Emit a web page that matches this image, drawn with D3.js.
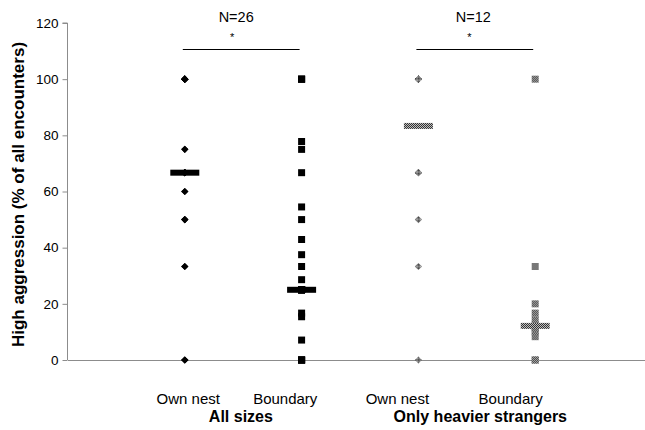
<!DOCTYPE html>
<html>
<head>
<meta charset="utf-8">
<script src="https://cdn.jsdelivr.net/npm/d3@7"></script>
<style>
  body { margin: 0; background: #fff; }
  text { font-family: Arial, "Liberation Sans", sans-serif; }
</style>
</head>
<body>
<script>
(function() {

// values (many points overlap)
var ownAll = [0, 0, 0, 33.3, 33.3, 50, 50, 50, 60, 60,
              66.7, 66.7, 66.7, 66.7, 66.7, 66.7, 75, 75,
              100, 100, 100, 100, 100, 100, 100, 100];
var boundAll = [0, 0, 0, 0, 7.1, 15.4, 16.7, 25, 25, 25, 25, 25, 25, 25,
                28.6, 33.3, 37.5, 42.9, 50, 54.5, 66.7, 75, 77.8,
                100, 100, 100];
var ownHeavy = [0, 33.3, 50, 66.7, 66.7, 66.7, 100, 100, 100, 100, 100, 100];
var boundHeavy = [0, 0, 8.3, 10, 11.1, 11.8, 12.5, 14.3, 16.7, 20, 33.3, 100];

var series = [
  {name: "Own nest",  x: 1, values: ownAll,     shape: "diamond", heavy: false},
  {name: "Boundary",  x: 2, values: boundAll,   shape: "square",  heavy: false},
  {name: "Own nest",  x: 3, values: ownHeavy,   shape: "diamond", heavy: true},
  {name: "Boundary",  x: 4, values: boundHeavy, shape: "square",  heavy: true}
];

var labelX   = [1.03, 1.86, 2.82, 3.79];
var groups   = ["All sizes", "Only heavier strangers"];
var groupX   = [1.48, 3.53];
var nLabels  = ["N=26", "N=12"];
var nX       = [1.44, 3.47];
var sigPairs = [[1, 2], [3, 4]];
var yTicks   = [0, 20, 40, 60, 80, 100, 120];

var width = 645, height = 430,
    svg, x, y;

svg = d3.select("body").append("svg")
  .attr("width", width)
  .attr("height", height);

var defs = svg.append("defs");
var pat = defs.append("pattern")
  .attr("id", "dither")
  .attr("width", 2).attr("height", 2)
  .attr("patternUnits", "userSpaceOnUse");
pat.append("rect").attr("width", 2).attr("height", 2).attr("fill", "#bdbdbd");
pat.append("rect").attr("width", 1).attr("height", 1).attr("fill", "#333");
pat.append("rect").attr("x", 1).attr("y", 1).attr("width", 1).attr("height", 1).attr("fill", "#333");

x = d3.scaleLinear().domain([0, 4.94]).range([68, 645]);
y = d3.scaleLinear().domain([0, 120]).range([360, 23]);

// y axis
var yAxis = svg.append("g")
  .attr("transform", "translate(67.5,0)")
  .call(d3.axisLeft(y).tickValues(yTicks).tickSize(5).tickPadding(4));
yAxis.selectAll("path, line").attr("stroke", "#8c8c8c");
yAxis.selectAll("text").attr("font-size", 13.5).attr("fill", "#000")
  .attr("font-family", "Arial, 'Liberation Sans', sans-serif");
yAxis.select(".domain").attr("d", "M-5," + y(120) + "H0V" + y(0));

// x axis line at 0
svg.append("line")
  .attr("x1", x(0)).attr("x2", x(4.94))
  .attr("y1", y(0) + 0.5).attr("y2", y(0) + 0.5)
  .attr("stroke", "#8c8c8c");

// y title
svg.append("text")
  .attr("transform", "translate(24," + (y(60) + 3) + ") rotate(-90)")
  .attr("text-anchor", "middle")
  .attr("font-size", 17)
  .attr("font-weight", "bold")
  .text("High aggression (% of all encounters)");

// category labels
svg.selectAll(".cat")
  .data(series)
  .enter().append("text")
    .attr("class", "cat")
    .attr("x", function(d, i) { return x(labelX[i]); })
    .attr("y", 404)
    .attr("text-anchor", "middle")
    .attr("font-size", 15)
    .text(function(d) { return d.name; });

svg.selectAll(".grp")
  .data(groups)
  .enter().append("text")
    .attr("class", "grp")
    .attr("x", function(d, i) { return x(groupX[i]); })
    .attr("y", 422)
    .attr("text-anchor", "middle")
    .attr("font-size", 16)
    .attr("font-weight", "bold")
    .text(function(d) { return d; });

// N labels, stars and bars
svg.selectAll(".n")
  .data(nLabels)
  .enter().append("text")
    .attr("x", function(d, i) { return x(nX[i]); })
    .attr("y", 22)
    .attr("text-anchor", "middle")
    .attr("font-size", 14.5)
    .text(function(d) { return d; });

svg.selectAll(".star")
  .data(sigPairs)
  .enter().append("text")
    .attr("x", function(d, i) { return x(nX[i]) - 4; })
    .attr("y", 41)
    .attr("text-anchor", "middle")
    .attr("font-size", 11)
    .text("*");

svg.selectAll(".sig")
  .data(sigPairs)
  .enter().append("line")
    .attr("x1", function(d) { return x(d[0]) - 2; })
    .attr("x2", function(d) { return x(d[1]) - 2; })
    .attr("y1", 49.5).attr("y2", 49.5)
    .attr("stroke", "#000");

// points
var diamond = d3.symbol().type(d3.symbolSquare).size(26)(),
    square  = d3.symbol().type(d3.symbolSquare).size(49)();

series.forEach(function(s) {
  var fill = s.heavy ? "url(#dither)" : "#000";
  var g = svg.append("g");

  g.selectAll("path")
    .data(s.values)
    .enter().append("path")
      .attr("d", s.shape === "diamond" ? diamond : square)
      .attr("transform", function(d) {
        return "translate(" + x(s.x) + "," + y(d) + ")" +
               (s.shape === "diamond" ? " rotate(45)" : "");
      })
      .attr("fill", fill);

  // median bar
  var med = d3.median(s.values);
  g.append("rect")
    .attr("x", x(s.x) - 14.5)
    .attr("y", y(med) - 3)
    .attr("width", 29)
    .attr("height", 6)
    .attr("fill", fill);
});

})();
</script>
</body>
</html>
